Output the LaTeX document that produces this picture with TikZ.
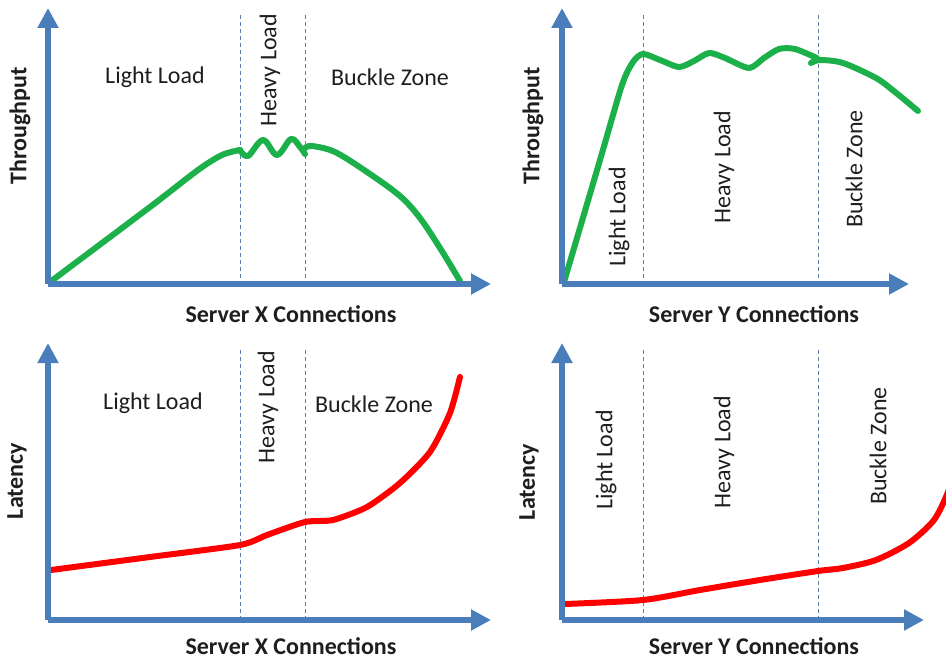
\documentclass[tikz,border=0pt]{standalone}
\usepackage{fontspec}
\setmainfont{Carlito}
\usetikzlibrary{arrows.meta}

\definecolor{axisblue}{RGB}{74,126,187}
\definecolor{tpgreen}{RGB}{28,176,74}
\definecolor{latred}{RGB}{255,0,0}
\definecolor{labelgray}{RGB}{30,30,30}

\tikzset{
  axisline/.style={draw=axisblue, line width=5.5pt,
    -{Triangle[width=20pt,length=20pt]}},
  zoneline/.style={draw=axisblue!70!gray, line width=0.7pt, dash pattern=on 4pt off 3pt},
  zonetext/.style={text=labelgray, font=\fontsize{24}{28}\selectfont, inner sep=0pt},
  axistext/.style={text=labelgray, font=\fontsize{24}{28}\selectfont\bfseries, inner sep=0pt},
  tpcurve/.style={draw=tpgreen, line width=6pt, line join=round, line cap=round},
  latcurve/.style={draw=latred, line width=6pt, line join=round, line cap=round},
}

\begin{document}
\begin{tikzpicture}[x=1pt, y=-1pt]
\useasboundingbox (0,0) rectangle (946,661);
\clip (0,0) rectangle (946,661);

% ---------- top left: throughput, server X ----------
\coordinate (o1) at (48,284);
\coordinate (y1) at (48,8);
\coordinate (x1) at (491,284);
\coordinate (d1a) at (240,15); \coordinate (d1ab) at (240,284);
\coordinate (d1b) at (305,15); \coordinate (d1bb) at (305,284);
\draw[zoneline] (d1a) -- (d1ab);
\draw[zoneline] (d1b) -- (d1bb);
\draw[tpcurve] plot[smooth, tension=0.5] coordinates
  {(50,282) (150,207) (198,170) (222,155) (240,150)};
\draw[tpcurve] plot[smooth, tension=0.6] coordinates
  {(240,150) (248,156) (263,140) (277,155) (291,139) (300,147) (305,154)};
\draw[tpcurve] plot[smooth, tension=0.55] coordinates
  {(305,148) (312,146) (335,152) (367,172) (400,196) (420,218) (440,248) (460,281)};
\draw[axisline] (o1) -- (y1);
\draw[axisline] (o1) -- (x1);
\node[zonetext] (l1) at (155,77) {Light Load};
\node[zonetext, rotate=90] (h1) at (270,70) {Heavy Load};
\node[zonetext] (b1) at (390,77) {Buckle Zone};
\node[axistext, rotate=90] (t1) at (20,126) {Throughput};
\node[axistext] (s1) at (291,314) {Server X Connections};

% ---------- top right: throughput, server Y ----------
\coordinate (o2) at (562,284);
\coordinate (y2) at (562,8);
\coordinate (x2) at (909,284);
\coordinate (d2a) at (643,15); \coordinate (d2ab) at (643,284);
\coordinate (d2b) at (818,15); \coordinate (d2bb) at (818,284);
\draw[zoneline] (d2a) -- (d2ab);
\draw[zoneline] (d2b) -- (d2bb);
\draw[tpcurve] plot[smooth, tension=0.45] coordinates
  {(564,282) (600,160) (622,85) (633,62) (643,54) (660,60) (679,67)
   (694,61) (709,53) (725,58) (749,68) (764,58) (779,49) (795,49) (817,58)};
\draw[tpcurve] plot[smooth, tension=0.5] coordinates
  {(811,63) (820,60) (843,63) (876,78) (895,92) (918,111)};
\draw[axisline] (o2) -- (y2);
\draw[axisline] (o2) -- (x2);
\node[zonetext, rotate=90] (l2) at (619,217) {Light Load};
\node[zonetext, rotate=90] (h2) at (724,167) {Heavy Load};
\node[zonetext, rotate=90] (b2) at (854,169) {Buckle Zone};
\node[axistext, rotate=90] (t2) at (533,126) {Throughput};
\node[axistext] (s2) at (754,314) {Server Y Connections};

% ---------- bottom left: latency, server X ----------
\coordinate (o3) at (48,620);
\coordinate (y3) at (48,343);
\coordinate (x3) at (491,620);
\coordinate (d3a) at (240,350); \coordinate (d3ab) at (240,620);
\coordinate (d3b) at (305,350); \coordinate (d3bb) at (305,620);
\draw[zoneline] (d3a) -- (d3ab);
\draw[zoneline] (d3b) -- (d3bb);
\draw[latcurve] plot[smooth, tension=0.4] coordinates
  {(51,570) (150,557) (240,545) (267,535) (305,522) (333,520) (367,507)
   (400,483) (430,452) (450,413) (460,377)};
\draw[axisline] (o3) -- (y3);
\draw[axisline] (o3) -- (x3);
\node[zonetext] (l3) at (153,403) {Light Load};
\node[zonetext, rotate=90] (h3) at (268,407) {Heavy Load};
\node[zonetext] (b3) at (374,404) {Buckle Zone};
\node[axistext, rotate=90] (t3) at (17,481) {Latency};
\node[axistext] (s3) at (291,646) {Server X Connections};

% ---------- bottom right: latency, server Y ----------
\coordinate (o4) at (562,620);
\coordinate (y4) at (562,343);
\coordinate (x4) at (924,620);
\coordinate (d4a) at (643,350); \coordinate (d4ab) at (643,620);
\coordinate (d4b) at (818,350); \coordinate (d4bb) at (818,620);
\draw[zoneline] (d4a) -- (d4ab);
\draw[zoneline] (d4b) -- (d4bb);
\draw[latcurve] plot[smooth, tension=0.45] coordinates
  {(565,604) (643,600) (700,590) (760,580) (818,571) (843,568) (876,560)
   (909,543) (934,520) (948,492) (954,470)};
\draw[axisline] (o4) -- (y4);
\draw[axisline] (o4) -- (x4);
\node[zonetext, rotate=90] (l4) at (606,460) {Light Load};
\node[zonetext, rotate=90] (h4) at (724,452) {Heavy Load};
\node[zonetext, rotate=90] (b4) at (878,446) {Buckle Zone};
\node[axistext, rotate=90] (t4) at (529,482) {Latency};
\node[axistext] (s4) at (754,646) {Server Y Connections};
\end{tikzpicture}
\end{document}
